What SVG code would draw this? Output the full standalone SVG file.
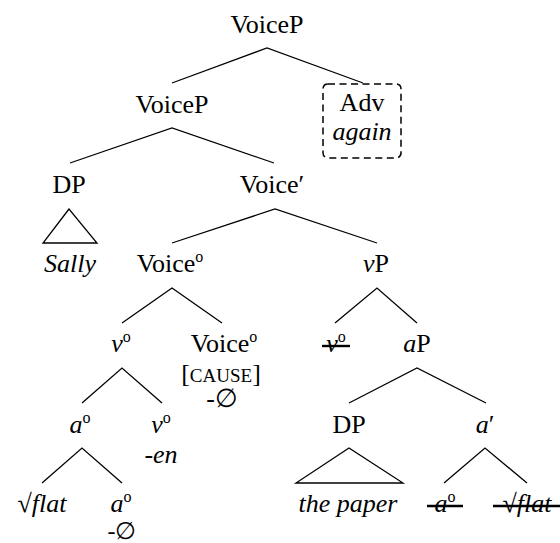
<svg xmlns="http://www.w3.org/2000/svg" width="560" height="543" viewBox="0 0 560 543">
  <style>
    text { font-family: "Liberation Serif", serif; font-size: 26px; fill: #000; text-anchor: middle; }
    .it { font-style: italic; }
    .sup { font-size: 16px; font-style: normal; }
    .sc { font-size: 19px; }
    .edge { stroke: #000; stroke-width: 1.3; fill: none; }
    .strike { stroke: #000; stroke-width: 2.4; }
    .box { stroke: #000; stroke-width: 1.5; fill: none; stroke-dasharray: 7 4.5; }
  </style>

  <!-- tree edges -->
  <g id="connectors">
    <path class="edge" d="M172 83 L267 48 L363 83"/>
    <path class="edge" d="M70 163 L172 128 L274 163"/>
    <path class="edge" d="M69 209 L43 243 L97 243 Z"/>
    <path class="edge" d="M172 243 L275 209 L377 243"/>
    <path class="edge" d="M122 323 L172 288 L222 323"/>
    <path class="edge" d="M335 323 L377 288 L417 323"/>
    <path class="edge" d="M82 403 L122 368 L162 403"/>
    <path class="edge" d="M349 403 L417 368 L486 403"/>
    <path class="edge" d="M42 483 L82 448 L122 483"/>
    <path class="edge" d="M349 448 L296 483 L403 483 Z"/>
    <path class="edge" d="M444 483 L485 448 L527 483"/>
  </g>

  <g id="voiceP-root"><text x="267" y="33">VoiceP</text></g>
  <g id="voiceP"><text x="172" y="113">VoiceP</text></g>

  <g id="adv">
    <rect class="box" x="323" y="84" width="78" height="74" rx="5"/>
    <text x="362" y="111">Adv</text>
    <text class="it" x="362" y="140">again</text>
  </g>

  <g id="dp-subject"><text x="69" y="193">DP</text></g>
  <g id="sally"><text class="it" x="70" y="272">Sally</text></g>
  <g id="voice-bar"><text x="272" y="193">Voice′</text></g>

  <g id="voice-head"><text x="170" y="272">Voice<tspan class="sup" dy="-10">o</tspan></text></g>
  <g id="vP"><text x="376" y="272"><tspan class="it">v</tspan>P</text></g>

  <g id="v-head"><text x="121" y="352"><tspan class="it">v</tspan><tspan class="sup" dy="-10">o</tspan></text></g>
  <g id="voice-cause">
    <text x="224" y="352">Voice<tspan class="sup" dy="-10">o</tspan></text>
    <text x="221" y="382">[<tspan class="sc">CAUSE</tspan>]</text>
    <text x="222" y="407">-∅</text>
  </g>
  <g id="v-copy">
    <text x="336" y="352"><tspan class="it">v</tspan><tspan class="sup" dy="-10">o</tspan></text>
    <line class="strike" x1="322" y1="346" x2="350" y2="346"/>
  </g>
  <g id="aP"><text x="417" y="352"><tspan class="it">a</tspan>P</text></g>

  <g id="a-head"><text x="80" y="433"><tspan class="it">a</tspan><tspan class="sup" dy="-10">o</tspan></text></g>
  <g id="v-en">
    <text x="161" y="433"><tspan class="it">v</tspan><tspan class="sup" dy="-10">o</tspan></text>
    <text class="it" x="161" y="463">-en</text>
  </g>
  <g id="dp-object"><text x="349" y="433">DP</text></g>
  <g id="a-bar"><text x="485" y="433"><tspan class="it">a</tspan>′</text></g>

  <g id="root-flat"><text x="42" y="512">√<tspan class="it">flat</tspan></text></g>
  <g id="a-zero">
    <text x="121" y="512"><tspan class="it">a</tspan><tspan class="sup" dy="-10">o</tspan></text>
    <text x="122" y="539" style="font-size:24px">-∅</text>
  </g>
  <g id="the-paper"><text class="it" x="348" y="512">the paper</text></g>
  <g id="a-copy">
    <text x="445" y="512"><tspan class="it">a</tspan><tspan class="sup" dy="-10">o</tspan></text>
    <line class="strike" x1="427" y1="506" x2="463" y2="506"/>
  </g>
  <g id="root-flat-copy">
    <text x="527" y="512">√<tspan class="it">flat</tspan></text>
    <line class="strike" x1="493" y1="506" x2="560" y2="506"/>
  </g>
</svg>
